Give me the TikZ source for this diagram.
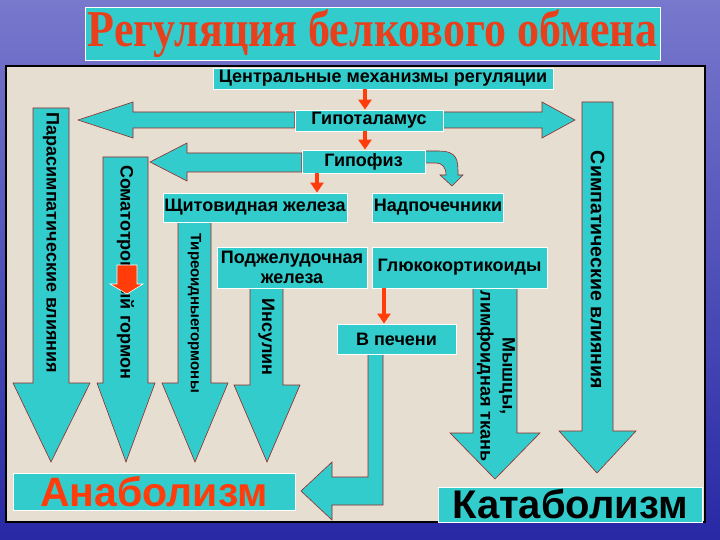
\documentclass[tikz,border=0pt]{standalone}
\usepackage{fontspec}
\setmainfont{Liberation Sans}
\newfontfamily\titlefont{Liberation Serif}
\usepackage{graphicx}
\usetikzlibrary{arrows.meta, backgrounds}

\definecolor{boxcyan}{RGB}{51,204,204}
\definecolor{panelbeige}{RGB}{230,222,208}
\definecolor{arrowedge}{RGB}{150,40,40}
\definecolor{arrowred}{RGB}{255,60,10}
\definecolor{titlered}{RGB}{232,64,28}
\definecolor{bgtop}{RGB}{120,120,205}
\definecolor{bgbottom}{RGB}{40,40,165}

\begin{document}
\begin{tikzpicture}[x=1pt, y=-1pt,
    box/.style={rectangle, fill=boxcyan, draw=white, line width=0.8pt, inner sep=1pt, align=center, font=\fontsize{18}{20}\selectfont\bfseries},
    blockarrow/.style={fill=boxcyan, draw=arrowedge, line width=0.6pt},
    vlabel/.style={rotate=-90, align=center, font=\fontsize{18}{22}\selectfont\bfseries},
    redarrow/.style={-{Triangle[width=13pt,length=10pt]}, line width=4pt, draw=arrowred}]

    % Nodes
    \node[box, minimum width=575pt, minimum height=53pt] (title) at (372.5,33.5) {\resizebox{569pt}{37pt}{\color{titlered}\titlefont\bfseries Регуляция белкового обмена}};
    \node[box, minimum width=340pt, minimum height=21pt] (central) at (383,78.5) {Центральные механизмы регуляции};
    \node[box, minimum width=148pt, minimum height=21pt] (hypothal) at (369,120.5) {Гипоталамус};
    \node[box, minimum width=123pt, minimum height=23pt] (hypophys) at (363.5,161.5) {Гипофиз};
    \node[box, minimum width=184pt, minimum height=29pt] (thyroid) at (255,207.5) {Щитовидная железа};
    \node[box, minimum width=130pt, minimum height=29pt] (adrenal) at (438,207.5) {Надпочечники};
    \node[box, minimum width=150pt, minimum height=41pt] (pancreas) at (292,267.5) {Поджелудочная\\железа};
    \node[box, minimum width=175pt, minimum height=41pt] (gluco) at (459.5,267.5) {Глюкокортикоиды};
    \node[box, minimum width=119pt, minimum height=30pt] (liver) at (396.5,339) {В печени};
    \node[box, minimum width=282pt, minimum height=37pt, font=\fontsize{41}{41}\selectfont\bfseries, text=arrowred] (anab) at (154,491.5) {Анаболизм};
    \node[box, minimum width=264pt, minimum height=35pt, font=\fontsize{40}{40}\selectfont\bfseries] (katab) at (570,504.5) {Катаболизм};

    % Labels on the arrows
    \node[vlabel] (para) at (51,243) {Парасимпатические влияния};
    \node[vlabel] (somato) at (125.5,272) {Соматотропный гормон};
    \node[vlabel, font=\fontsize{15}{18}\selectfont\bfseries] (thyrhorm) at (194.5,313) {Тиреоидныегормоны};
    \node[vlabel] (insulin) at (266.5,337) {Инсулин};
    \node[vlabel] (muscle) at (496,376) {Мышцы,\\лимфоидная ткань};
    \node[vlabel, font=\fontsize{19.5}{22}\selectfont\bfseries] (symp) at (597.5,270) {Симпатические влияния};

    % Background and block arrows
    \begin{scope}[on background layer]
    \shade[top color=bgtop, bottom color=bgbottom] (0,0) rectangle (720,540);
    \draw[fill=panelbeige, line width=1.2pt] (6,66) rectangle (705,522);
    % horizontal arrows
    \draw[blockarrow] (hypothal.west |- 0,112) -- (133,112) -- (133,102) -- (78,120) -- (133,138) -- (133,128) -- (hypothal.west |- 0,128) -- cycle;
    \draw[blockarrow] (hypothal.east |- 0,112) -- (542,112) -- (542,102) -- (575,120) -- (542,138) -- (542,128) -- (hypothal.east |- 0,128) -- cycle;
    \draw[blockarrow] (hypophys.west |- 0,153) -- (187,153) -- (187,143) -- (150,162) -- (187,181) -- (187,172) -- (hypophys.west |- 0,172) -- cycle;
    \draw[blockarrow] (hypophys.east |- 0,151) -- (438,151) .. controls (458,151) and (458,160) .. (458,175) -- (463,175) -- (452,186) -- (440,175) -- (446,175) .. controls (446,167) and (442,163) .. (436,163) -- (hypophys.east |- 0,163) -- cycle;
    % downward arrows
    \draw[blockarrow] (33,108) -- (69,108) -- (69,383) -- (90,383) -- (51,462) -- (13,383) -- (33,383) -- cycle;
    \draw[blockarrow] (103,157) -- (148,157) -- (148,383) -- (155,383) -- (126,462) -- (97,383) -- (103,383) -- cycle;
    \draw[blockarrow] (178,0 |- thyroid.south) -- (211,0 |- thyroid.south) -- (211,383) -- (228,383) -- (195,462) -- (162,383) -- (178,383) -- cycle;
    \draw[blockarrow] (250,0 |- pancreas.south) -- (283,0 |- pancreas.south) -- (283,385) -- (300,385) -- (267,462) -- (234,385) -- (250,385) -- cycle;
    \draw[blockarrow] (473,0 |- gluco.south) -- (517,0 |- gluco.south) -- (517,433) -- (540,433) -- (495,479) -- (450,433) -- (473,433) -- cycle;
    \draw[blockarrow] (582,102) -- (613,102) -- (613,431) -- (636,431) -- (597,473) -- (559,431) -- (582,431) -- cycle;
    % from the liver to anabolism
    \draw[blockarrow] (368,0 |- liver.south) -- (383,0 |- liver.south) -- (383,505) -- (332,505) -- (332,520) -- (301,491) -- (332,462) -- (332,477) -- (368,477) -- cycle;
    \end{scope}

    % small red marker
    \draw[fill=arrowred, draw=white, line width=0.6pt] (117,265) -- (137,265) -- (137,284) -- (143,284) -- (127,294) -- (110,284) -- (117,284) -- cycle;

    % Arrows
    \draw[redarrow] ([xshift=-18pt]central.south) -- ([xshift=-4pt]hypothal.north);
    \draw[redarrow] ([xshift=-4pt]hypothal.south) -- ([xshift=1.5pt]hypophys.north);
    \draw[redarrow] ([xshift=-46.5pt]hypophys.south) -- ([xshift=62pt]thyroid.north);
    \draw[redarrow] ([xshift=-75.5pt]gluco.south) -- ([xshift=-12.5pt]liver.north);

\end{tikzpicture}
\end{document}
